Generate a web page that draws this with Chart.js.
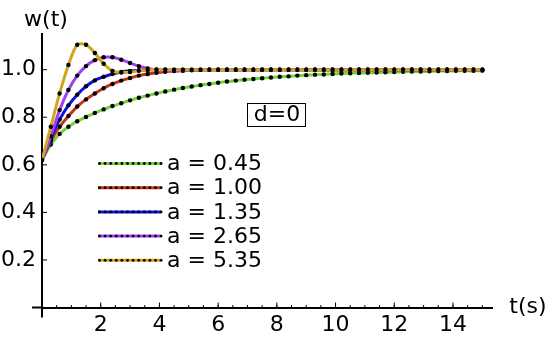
<!DOCTYPE html>
<html><head><meta charset="utf-8">
<script src="https://cdn.jsdelivr.net/npm/chart.js@4.4.1/dist/chart.umd.min.js"></script>
<style>html,body{margin:0;padding:0;background:#fff;}canvas{display:block;}</style>
</head><body>
<canvas id="c" width="550" height="339"></canvas>
<script>
const times = [0,0.3,0.6,0.9,1.2,1.5,1.8,2.1,2.4,2.7,3.0,3.3,3.6,3.9,4.2,4.5,4.8,5.1,5.4,5.7,6.0,6.3,6.6,6.9,7.2,7.5,7.8,8.1,8.4,8.7,9.0,9.3,9.6,9.9,10.2,10.5,10.8,11.1,11.4,11.7,12.0,12.3,12.6,12.9,13.2,13.5,13.8,14.1,14.4,14.7,15.0];
const seriesLabels = ['a = 0.45','a = 1.00','a = 1.35','a = 2.65','a = 5.35'];
const seriesColors = ['#72d43c','#c8301c','#1010e0','#a040f0','#d2a51e'];
const wA045 = [0.62,0.685,0.73,0.76,0.783,0.801,0.818,0.833,0.847,0.859,0.871,0.882,0.891,0.900,0.908,0.916,0.923,0.929,0.935,0.940,0.945,0.950,0.954,0.958,0.961,0.964,0.967,0.970,0.972,0.975,0.977,0.979,0.980,0.982,0.984,0.985,0.986,0.987,0.988,0.989,0.990,0.991,0.992,0.992,0.993,0.994,0.994,0.995,0.995,0.995,0.996];
const wA100 = [0.62,0.70,0.76,0.805,0.845,0.875,0.90,0.922,0.94,0.954,0.965,0.975,0.982,0.987,0.991,0.994,0.996,0.998,0.999,1,1,1,1,1,1,1,1,1,1,1,1,1,1,1,1,1,1,1,1,1,1,1,1,1,1,1,1,1,1,1,1];
const wA135 = [0.62,0.71,0.79,0.85,0.895,0.93,0.955,0.97,0.982,0.99,0.995,0.998,1,1,1,1,1,1,1,1,1,1,1,1,1,1,1,1,1,1,1,1,1,1,1,1,1,1,1,1,1,1,1,1,1,1,1,1,1,1,1];
const wA265 = [0.62,0.72,0.83,0.915,0.975,1.015,1.04,1.052,1.052,1.042,1.028,1.015,1.005,0.999,0.996,0.995,0.996,0.998,0.999,1,1,1,1,1,1,1,1,1,1,1,1,1,1,1,1,1,1,1,1,1,1,1,1,1,1,1,1,1,1,1,1];
const wA535 = [0.62,0.76,0.90,1.02,1.105,1.105,1.07,1.025,0.995,0.988,0.99,0.995,0.999,1.001,1.001,1,1,1,1,1,1,1,1,1,1,1,1,1,1,1,1,1,1,1,1,1,1,1,1,1,1,1,1,1,1,1,1,1,1,1,1];
const seriesValues = [wA045, wA100, wA135, wA265, wA535];
const xTicks = [2,4,6,8,10,12,14];
const yTicks = [0.2,0.4,0.6,0.8,1.0];
const yTickLabels = ['0.2','0.4','0.6','0.8','1.0'];
const FONT = 'DejaVu Sans';

const datasets = seriesValues.map((vals, i) => ({
  label: seriesLabels[i],
  data: vals.map((v, k) => ({x: times[k], y: v})),
  borderColor: seriesColors[i],
  backgroundColor: seriesColors[i],
  borderWidth: 3,
  pointRadius: 2.2,
  pointBackgroundColor: '#000',
  pointBorderColor: '#000',
  pointBorderWidth: 0,
  tension: 0.3,
  fill: false,
  order: 5 - i
}));

const deco = {
  id: 'deco',
  afterDraw(chart) {
    const {ctx, scales: {x, y}} = chart;
    const x0 = x.getPixelForValue(0), y0 = y.getPixelForValue(0);
    ctx.save();
    ctx.strokeStyle = '#000';
    ctx.lineWidth = 2;
    ctx.beginPath();
    ctx.moveTo(x0 - 10, y0); ctx.lineTo(x0, y0);
    ctx.moveTo(x0, y0); ctx.lineTo(x0, y0 + 10);
    ctx.stroke();
    ctx.lineWidth = 1;
    ctx.beginPath();
    xTicks.forEach(v => { const p = x.getPixelForValue(v); ctx.moveTo(p, y0); ctx.lineTo(p, y0 - 5); });
    for (let v = 0.5; v < 15.3; v += 0.5) { const p = x.getPixelForValue(v); ctx.moveTo(p, y0); ctx.lineTo(p, y0 - 2.5); }
    yTicks.forEach(v => { const p = y.getPixelForValue(v); ctx.moveTo(x0, p); ctx.lineTo(x0 + 5, p); });
    ctx.stroke();
    ctx.fillStyle = '#000';
    ctx.font = '22px "' + FONT + '"';
    ctx.textBaseline = 'middle';
    ctx.textAlign = 'center';
    ctx.fillText('w(t)', 46, 20);
    ctx.fillText('t(s)', 528, 307);
    ctx.fillText('d=0', 277, 115);
    ctx.strokeRect(247.5, 103.5, 58, 23);
    ctx.textAlign = 'left';
    chart.data.datasets.forEach((ds, i) => {
      const ly = 163.5 + i * 24.2;
      ctx.strokeStyle = ds.borderColor;
      ctx.lineWidth = 3;
      ctx.beginPath(); ctx.moveTo(98, ly); ctx.lineTo(161, ly); ctx.stroke();
      ctx.fillStyle = '#000';
      for (let k = 0; k < 12; k++) {
        ctx.beginPath(); ctx.arc(99.5 + k * 5.6, ly, 1.4, 0, Math.PI * 2); ctx.fill();
      }
      ctx.fillText(ds.label, 167, ly + 1);
    });
    ctx.restore();
  }
};

new Chart(document.getElementById('c'), {
  type: 'line',
  data: {datasets},
  plugins: [deco],
  options: {
    responsive: false,
    animation: false,
    events: [],
    layout: {padding: {left: 0, right: 58, top: 34, bottom: 0}},
    plugins: {legend: {display: false}, tooltip: {enabled: false}},
    scales: {
      x: {
        type: 'linear', min: 0, max: 15.33,
        afterFit(s) { s.height = 31.5; },
        afterBuildTicks(s) { s.ticks = xTicks.map(v => ({value: v})); },
        grid: {display: false, drawTicks: false, tickLength: 0},
        border: {display: true, color: '#000', width: 2},
        ticks: {color: '#000', font: {family: FONT, size: 22}, padding: 5, maxRotation: 0, autoSkip: false, callback: v => String(v)}
      },
      y: {
        type: 'linear', min: 0, max: 1.15,
        afterFit(s) { s.width = 42; },
        afterBuildTicks(s) { s.ticks = yTicks.map(v => ({value: v})); },
        grid: {display: false, drawTicks: false, tickLength: 0},
        border: {display: true, color: '#000', width: 2},
        ticks: {color: '#000', font: {family: FONT, size: 22}, padding: 6, autoSkip: false, callback: (v, i) => yTickLabels[i]}
      }
    }
  }
});
</script>
</body></html>
